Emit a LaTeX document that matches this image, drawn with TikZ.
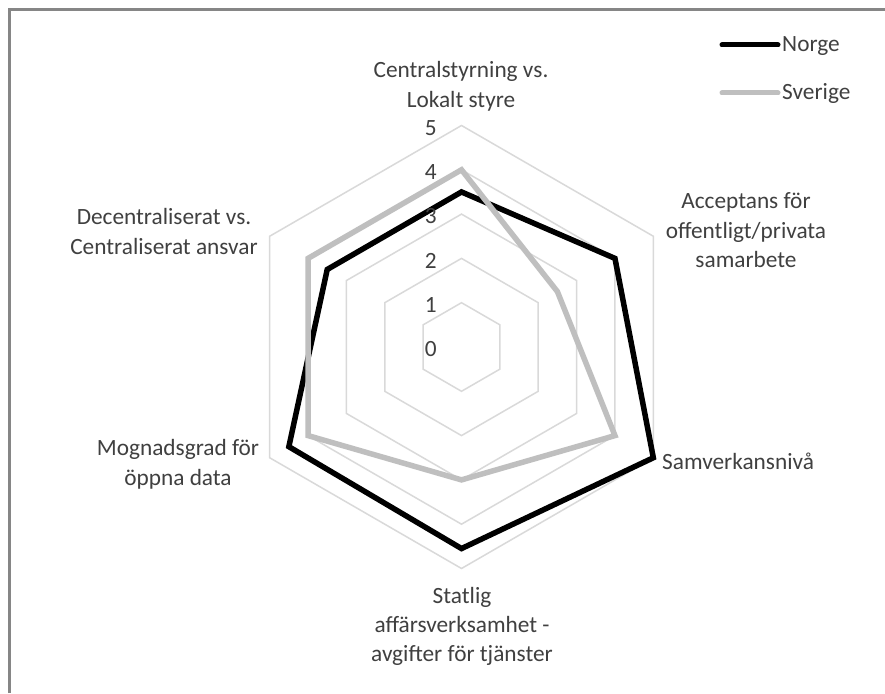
\documentclass[tikz,border=0pt]{standalone}
\usepackage{fontspec}
\setmainfont{Carlito}
\definecolor{txt}{HTML}{404040}
\definecolor{gridc}{HTML}{D9D9D9}
\definecolor{framec}{HTML}{868686}
\definecolor{sverigec}{HTML}{BFBFBF}
\begin{document}
\begin{tikzpicture}[x=1pt,y=1pt,
  lbl/.style={font=\fontsize{23.3}{29.3}\selectfont, text=txt, inner sep=0pt, align=center},
  lvl/.style={font=\fontsize{23.3}{29.3}\selectfont, text=txt, inner sep=0pt, anchor=base east},
  gridline/.style={draw=gridc, line width=1.5pt},
  norge/.style={draw=black, line width=5.5pt, line join=miter},
  sverige/.style={draw=sverigec, line width=5.5pt, line join=miter},
  legline/.style={line width=5pt, line cap=round}]
\useasboundingbox (0,0) rectangle (885,693);
\fill[white] (0,0) rectangle (885,693);
% chart area frame (left and top edges)
\draw[framec, line width=2.5pt] (9.5,0) -- (9.5,683.5) -- (885,683.5);

\coordinate (O) at (461.5,346);
\def\u{44.3}
\begin{scope}[shift={(O)}]
  % level hexagons
  \foreach \k in {1,...,5}
    \draw[gridline] (90:\k*\u) -- (30:\k*\u) -- (-30:\k*\u) -- (-90:\k*\u)
      -- (210:\k*\u) -- (150:\k*\u) -- cycle;
  % Norge
  \draw[norge] (90:3.5*\u) -- (30:4*\u) -- (-30:5*\u) -- (-90:4.55*\u)
      -- (210:4.5*\u) -- (150:3.5*\u) -- cycle;
  % Sverige
  \draw[sverige] (90:4*\u) -- (30:2.5*\u) -- (-30:4*\u) -- (-90:3*\u)
      -- (210:4*\u) -- (150:4*\u) -- cycle;
  % axis values
  \foreach \k in {0,...,5}
    \node[lvl] (v\k) at (-24.5,\k*\u-9.9) {\k};
\end{scope}

% category labels (base anchor sits on the last line)
\node[lbl, anchor=base] (c1) at (461,585.7) {Centralstyrning vs.\\Lokalt styre};
\node[lbl, anchor=base] (c2) at (746,425.4) {Acceptans för\\offentligt/privata\\samarbete};
\node[lbl, anchor=base west] (c3) at (662,223) {Samverkansnivå};
\node[lbl, anchor=base] (c4) at (462,31.4) {Statlig\\affärsverksamhet -\\avgifter för tjänster};
\node[lbl, anchor=base] (c5) at (178,207.7) {Mognadsgrad för\\öppna data};
\node[lbl, anchor=base] (c6) at (164,438.7) {Decentraliserat vs.\\Centraliserat ansvar};

% legend
\coordinate (n1) at (722,648);
\coordinate (n2) at (778,648);
\coordinate (s1) at (722,600);
\coordinate (s2) at (778,600);
\draw[legline, black] (n1) -- (n2);
\draw[legline, sverigec] (s1) -- (s2);
\node[lbl, anchor=base west] (ln) at (782,641) {Norge};
\node[lbl, anchor=base west] (ls) at (782,593) {Sverige};
\end{tikzpicture}
\end{document}
